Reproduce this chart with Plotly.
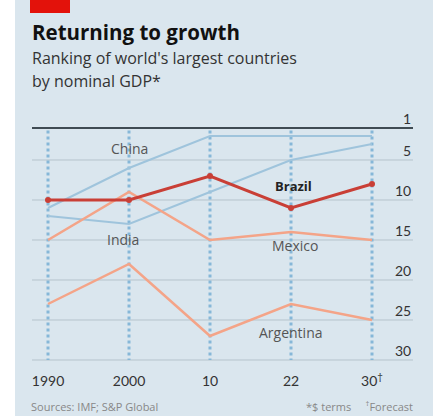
import plotly.graph_objects as go

years = ["1990", "2000", "10", "22", "30<sup>†</sup>"]
china = [11, 6, 2, 2, 2]
india = [12, 13, 9, 5, 3]
brazil = [10, 10, 7, 11, 8]
mexico = [15, 9, 15, 14, 15]
argentina = [23, 18, 27, 23, 25]
rank_ticks = [1, 5, 10, 15, 20, 25, 30]

xs = list(range(len(years)))
BG = "#dae6ee"
BLUE = "#9fc4dc"
SALMON = "#f4a488"
RED = "#c93f36"
FONT = "Open Sans"
TFONT = "Lato"

W, H = 433, 416
ML, MR, MT, MB = 32, 20, 120, 48
PW, PH = W - ML - MR, H - MT - MB


def px(x):
    return (x - ML) / PW


def py(y):
    return (H - MB - y) / PH


fig = go.Figure()

shapes = []
for x in xs:
    shapes.append(dict(type="line", xref="x", yref="y", x0=x, x1=x, y0=1.3, y1=30,
                       line=dict(color="#86b7d8", width=3, dash="dot"), layer="below"))
for r in rank_ticks[1:]:
    shapes.append(dict(type="line", xref="paper", yref="y", x0=0, x1=1, y0=r, y1=r,
                       line=dict(color="#b5c3cc", width=1), layer="below"))
shapes.append(dict(type="line", xref="paper", yref="y", x0=0, x1=1, y0=1, y1=1,
                   line=dict(color="#3f4b53", width=2), layer="below"))
shapes.append(dict(type="rect", xref="paper", yref="paper", x0=px(0), x1=px(15),
                   y0=py(H), y1=py(0), fillcolor="white", line=dict(width=0), layer="below"))
shapes.append(dict(type="rect", xref="paper", yref="paper", x0=px(30), x1=px(70),
                   y0=py(13), y1=py(0), fillcolor="#e3120b", line=dict(width=0)))

fig.add_trace(go.Scatter(x=xs, y=china, mode="lines", line=dict(color=BLUE, width=2), hoverinfo="skip"))
fig.add_trace(go.Scatter(x=xs, y=india, mode="lines", line=dict(color=BLUE, width=2), hoverinfo="skip"))
fig.add_trace(go.Scatter(x=xs, y=argentina, mode="lines", line=dict(color=SALMON, width=2.5), hoverinfo="skip"))
fig.add_trace(go.Scatter(x=xs, y=mexico, mode="lines", line=dict(color=SALMON, width=2.5), hoverinfo="skip"))
fig.add_trace(go.Scatter(x=xs, y=brazil, mode="lines+markers", line=dict(color=RED, width=3),
                         marker=dict(color=RED, size=6), hoverinfo="skip"))

annotations = []
for r in rank_ticks:
    annotations.append(dict(xref="paper", yref="y", x=1, y=r, text=str(r), showarrow=False,
                            xanchor="right", yanchor="bottom", yshift=-1,
                            font=dict(family=TFONT, size=14, color="#333")))

labels = [("China", 1, 3.6, "#555", False),
          ("India", 0.92, 14.9, "#555", False),
          ("Brazil", 3.03, 8.2, "#222", True),
          ("Mexico", 3.05, 15.7, "#555", False),
          ("Argentina", 3.0, 26.6, "#555", False)]
for t, x, y, c, b in labels:
    annotations.append(dict(xref="x", yref="y", x=x, y=y, text=f"<b>{t}</b>" if b else t,
                            showarrow=False, font=dict(family=FONT, size=14 if not b else 13, color=c)))

annotations += [
    dict(xref="paper", yref="paper", x=px(30), y=py(32), text="<b>Returning to growth</b>",
         showarrow=False, xanchor="left", yanchor="middle",
         font=dict(family=FONT, size=20.5, color="#111")),
    dict(xref="paper", yref="paper", x=px(30), y=py(58.5), text="Ranking of world's largest countries",
         showarrow=False, xanchor="left", yanchor="middle",
         font=dict(family=FONT, size=16, color="#333")),
    dict(xref="paper", yref="paper", x=px(30), y=py(81), text="by nominal GDP*",
         showarrow=False, xanchor="left", yanchor="middle",
         font=dict(family=FONT, size=16, color="#333")),
    dict(xref="paper", yref="paper", x=px(29), y=py(406), text="Sources: IMF; S&P Global",
         showarrow=False, xanchor="left", yanchor="middle",
         font=dict(family=FONT, size=11, color="#888")),
    dict(xref="paper", yref="paper", x=px(415), y=py(406), text="*$ terms     <sup>†</sup>Forecast",
         showarrow=False, xanchor="right", yanchor="middle",
         font=dict(family=FONT, size=11, color="#888")),
]

fig.update_layout(
    width=W, height=H,
    margin=dict(l=ML, r=MR, t=MT, b=MB),
    paper_bgcolor=BG, plot_bgcolor=BG,
    showlegend=False,
    shapes=shapes, annotations=annotations,
    xaxis=dict(range=[-16 / 81, (413 - 48) / 81], tickvals=xs, ticktext=years, showgrid=False,
               zeroline=False, showline=False, ticks="", ticklabelstandoff=3,
               tickfont=dict(family=TFONT, size=14, color="#333"), fixedrange=True),
    yaxis=dict(range=[31, 0], showgrid=False, zeroline=False, showticklabels=False,
               showline=False, fixedrange=True),
)

fig.write_html("out.html", post_script="document.body.style.margin='0px';",
               config={"displayModeBar": False})
